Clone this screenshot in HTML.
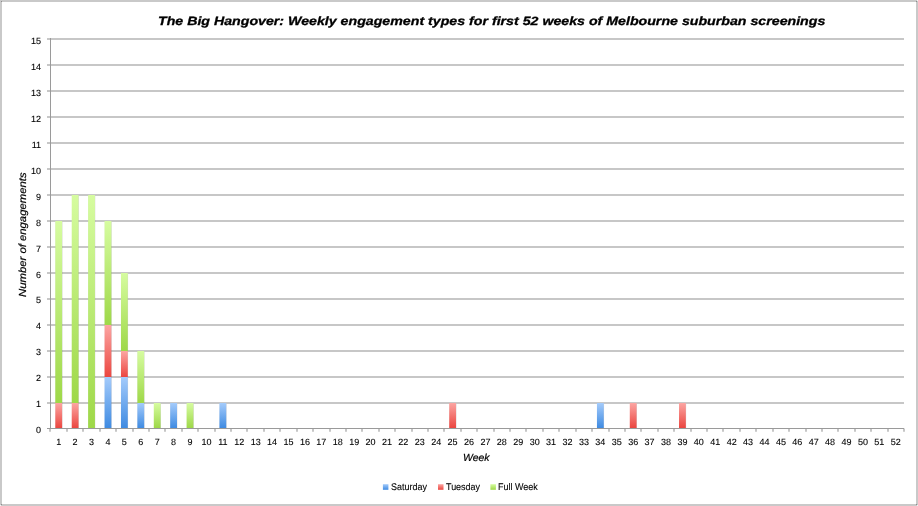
<!DOCTYPE html>
<html><head><meta charset="utf-8"><title>The Big Hangover</title>
<style>
html,body{margin:0;padding:0;background:#fff;}
body{width:918px;height:506px;overflow:hidden;position:relative;font-family:"Liberation Sans",sans-serif;color:#000;}
#frame{position:absolute;left:0;top:0;width:914px;height:502px;border:2px solid #c9c9c9;}
.t{position:absolute;white-space:nowrap;line-height:1;}
#txt{position:absolute;left:0;top:0;width:918px;height:506px;will-change:transform;text-rendering:geometricPrecision;}
.yl,.xl,.lg{-webkit-text-stroke:0.1px #000;}
.yl{font-size:9px;text-align:right;width:30px;left:11px;}
.xl{font-size:9px;text-align:center;width:20px;}
.lg{font-size:9.7px;top:483px;transform-origin:0 50%;transform:scaleX(0.925);}
</style></head><body>
<div id="frame"></div>
<svg width="918" height="506" viewBox="0 0 918 506" style="position:absolute;left:0;top:0">
<defs>
<linearGradient id="gb" x1="0" y1="0" x2="0" y2="1"><stop offset="0" stop-color="#a4cbfb"/><stop offset="1" stop-color="#3f8be2"/></linearGradient>
<linearGradient id="gr" x1="0" y1="0" x2="0" y2="1"><stop offset="0" stop-color="#fca5a2"/><stop offset="1" stop-color="#eb4640"/></linearGradient>
<linearGradient id="gg" x1="0" y1="0" x2="0" y2="1"><stop offset="0" stop-color="#d6fca0"/><stop offset="1" stop-color="#9ed848"/></linearGradient>
<filter id="sh" x="-50%" y="-5%" width="200%" height="110%"><feGaussianBlur stdDeviation="0.7"/></filter>
</defs>
<line x1="47" x2="904.0" y1="403.00" y2="403.00" stroke="#c7c7c7" stroke-width="2"/>
<line x1="47" x2="904.0" y1="377.00" y2="377.00" stroke="#c7c7c7" stroke-width="2"/>
<line x1="47" x2="904.0" y1="351.00" y2="351.00" stroke="#c7c7c7" stroke-width="2"/>
<line x1="47" x2="904.0" y1="325.00" y2="325.00" stroke="#c7c7c7" stroke-width="2"/>
<line x1="47" x2="904.0" y1="299.00" y2="299.00" stroke="#c7c7c7" stroke-width="2"/>
<line x1="47" x2="904.0" y1="273.00" y2="273.00" stroke="#c7c7c7" stroke-width="2"/>
<line x1="47" x2="904.0" y1="247.00" y2="247.00" stroke="#c7c7c7" stroke-width="2"/>
<line x1="47" x2="904.0" y1="221.00" y2="221.00" stroke="#c7c7c7" stroke-width="2"/>
<line x1="47" x2="904.0" y1="195.00" y2="195.00" stroke="#c7c7c7" stroke-width="2"/>
<line x1="47" x2="904.0" y1="169.00" y2="169.00" stroke="#c7c7c7" stroke-width="2"/>
<line x1="47" x2="904.0" y1="143.00" y2="143.00" stroke="#c7c7c7" stroke-width="2"/>
<line x1="47" x2="904.0" y1="117.00" y2="117.00" stroke="#c7c7c7" stroke-width="2"/>
<line x1="47" x2="904.0" y1="91.00" y2="91.00" stroke="#c7c7c7" stroke-width="2"/>
<line x1="47" x2="904.0" y1="65.00" y2="65.00" stroke="#c7c7c7" stroke-width="2"/>
<line x1="47" x2="904.0" y1="39.00" y2="39.00" stroke="#c7c7c7" stroke-width="2"/>
<line x1="50.00" x2="50.00" y1="428.5" y2="431.8" stroke="#c6c6c6" stroke-width="2"/>
<line x1="67.00" x2="67.00" y1="428.5" y2="431.8" stroke="#c6c6c6" stroke-width="2"/>
<line x1="83.00" x2="83.00" y1="428.5" y2="431.8" stroke="#c6c6c6" stroke-width="2"/>
<line x1="100.00" x2="100.00" y1="428.5" y2="431.8" stroke="#c6c6c6" stroke-width="2"/>
<line x1="116.00" x2="116.00" y1="428.5" y2="431.8" stroke="#c6c6c6" stroke-width="2"/>
<line x1="133.00" x2="133.00" y1="428.5" y2="431.8" stroke="#c6c6c6" stroke-width="2"/>
<line x1="149.00" x2="149.00" y1="428.5" y2="431.8" stroke="#c6c6c6" stroke-width="2"/>
<line x1="165.00" x2="165.00" y1="428.5" y2="431.8" stroke="#c6c6c6" stroke-width="2"/>
<line x1="182.00" x2="182.00" y1="428.5" y2="431.8" stroke="#c6c6c6" stroke-width="2"/>
<line x1="198.00" x2="198.00" y1="428.5" y2="431.8" stroke="#c6c6c6" stroke-width="2"/>
<line x1="215.00" x2="215.00" y1="428.5" y2="431.8" stroke="#c6c6c6" stroke-width="2"/>
<line x1="231.00" x2="231.00" y1="428.5" y2="431.8" stroke="#c6c6c6" stroke-width="2"/>
<line x1="247.00" x2="247.00" y1="428.5" y2="431.8" stroke="#c6c6c6" stroke-width="2"/>
<line x1="264.00" x2="264.00" y1="428.5" y2="431.8" stroke="#c6c6c6" stroke-width="2"/>
<line x1="280.00" x2="280.00" y1="428.5" y2="431.8" stroke="#c6c6c6" stroke-width="2"/>
<line x1="297.00" x2="297.00" y1="428.5" y2="431.8" stroke="#c6c6c6" stroke-width="2"/>
<line x1="313.00" x2="313.00" y1="428.5" y2="431.8" stroke="#c6c6c6" stroke-width="2"/>
<line x1="330.00" x2="330.00" y1="428.5" y2="431.8" stroke="#c6c6c6" stroke-width="2"/>
<line x1="346.00" x2="346.00" y1="428.5" y2="431.8" stroke="#c6c6c6" stroke-width="2"/>
<line x1="362.00" x2="362.00" y1="428.5" y2="431.8" stroke="#c6c6c6" stroke-width="2"/>
<line x1="379.00" x2="379.00" y1="428.5" y2="431.8" stroke="#c6c6c6" stroke-width="2"/>
<line x1="395.00" x2="395.00" y1="428.5" y2="431.8" stroke="#c6c6c6" stroke-width="2"/>
<line x1="412.00" x2="412.00" y1="428.5" y2="431.8" stroke="#c6c6c6" stroke-width="2"/>
<line x1="428.00" x2="428.00" y1="428.5" y2="431.8" stroke="#c6c6c6" stroke-width="2"/>
<line x1="444.00" x2="444.00" y1="428.5" y2="431.8" stroke="#c6c6c6" stroke-width="2"/>
<line x1="461.00" x2="461.00" y1="428.5" y2="431.8" stroke="#c6c6c6" stroke-width="2"/>
<line x1="477.00" x2="477.00" y1="428.5" y2="431.8" stroke="#c6c6c6" stroke-width="2"/>
<line x1="494.00" x2="494.00" y1="428.5" y2="431.8" stroke="#c6c6c6" stroke-width="2"/>
<line x1="510.00" x2="510.00" y1="428.5" y2="431.8" stroke="#c6c6c6" stroke-width="2"/>
<line x1="526.00" x2="526.00" y1="428.5" y2="431.8" stroke="#c6c6c6" stroke-width="2"/>
<line x1="543.00" x2="543.00" y1="428.5" y2="431.8" stroke="#c6c6c6" stroke-width="2"/>
<line x1="559.00" x2="559.00" y1="428.5" y2="431.8" stroke="#c6c6c6" stroke-width="2"/>
<line x1="576.00" x2="576.00" y1="428.5" y2="431.8" stroke="#c6c6c6" stroke-width="2"/>
<line x1="592.00" x2="592.00" y1="428.5" y2="431.8" stroke="#c6c6c6" stroke-width="2"/>
<line x1="609.00" x2="609.00" y1="428.5" y2="431.8" stroke="#c6c6c6" stroke-width="2"/>
<line x1="625.00" x2="625.00" y1="428.5" y2="431.8" stroke="#c6c6c6" stroke-width="2"/>
<line x1="641.00" x2="641.00" y1="428.5" y2="431.8" stroke="#c6c6c6" stroke-width="2"/>
<line x1="658.00" x2="658.00" y1="428.5" y2="431.8" stroke="#c6c6c6" stroke-width="2"/>
<line x1="674.00" x2="674.00" y1="428.5" y2="431.8" stroke="#c6c6c6" stroke-width="2"/>
<line x1="691.00" x2="691.00" y1="428.5" y2="431.8" stroke="#c6c6c6" stroke-width="2"/>
<line x1="707.00" x2="707.00" y1="428.5" y2="431.8" stroke="#c6c6c6" stroke-width="2"/>
<line x1="723.00" x2="723.00" y1="428.5" y2="431.8" stroke="#c6c6c6" stroke-width="2"/>
<line x1="740.00" x2="740.00" y1="428.5" y2="431.8" stroke="#c6c6c6" stroke-width="2"/>
<line x1="756.00" x2="756.00" y1="428.5" y2="431.8" stroke="#c6c6c6" stroke-width="2"/>
<line x1="773.00" x2="773.00" y1="428.5" y2="431.8" stroke="#c6c6c6" stroke-width="2"/>
<line x1="789.00" x2="789.00" y1="428.5" y2="431.8" stroke="#c6c6c6" stroke-width="2"/>
<line x1="806.00" x2="806.00" y1="428.5" y2="431.8" stroke="#c6c6c6" stroke-width="2"/>
<line x1="822.00" x2="822.00" y1="428.5" y2="431.8" stroke="#c6c6c6" stroke-width="2"/>
<line x1="838.00" x2="838.00" y1="428.5" y2="431.8" stroke="#c6c6c6" stroke-width="2"/>
<line x1="855.00" x2="855.00" y1="428.5" y2="431.8" stroke="#c6c6c6" stroke-width="2"/>
<line x1="871.00" x2="871.00" y1="428.5" y2="431.8" stroke="#c6c6c6" stroke-width="2"/>
<line x1="888.00" x2="888.00" y1="428.5" y2="431.8" stroke="#c6c6c6" stroke-width="2"/>
<line x1="904.00" x2="904.00" y1="428.5" y2="431.8" stroke="#c6c6c6" stroke-width="2"/>
<rect x="55.61" y="222.00" width="6.80" height="206.50" fill="#202028" opacity="0.2" filter="url(#sh)"/>
<rect x="72.02" y="196.00" width="6.80" height="232.50" fill="#202028" opacity="0.2" filter="url(#sh)"/>
<rect x="88.43" y="196.00" width="6.80" height="232.50" fill="#202028" opacity="0.2" filter="url(#sh)"/>
<rect x="104.85" y="222.00" width="6.80" height="206.50" fill="#202028" opacity="0.2" filter="url(#sh)"/>
<rect x="121.26" y="274.00" width="6.80" height="154.50" fill="#202028" opacity="0.2" filter="url(#sh)"/>
<rect x="137.67" y="352.00" width="6.80" height="76.50" fill="#202028" opacity="0.2" filter="url(#sh)"/>
<rect x="154.09" y="404.00" width="6.80" height="24.50" fill="#202028" opacity="0.2" filter="url(#sh)"/>
<rect x="170.50" y="404.00" width="6.80" height="24.50" fill="#202028" opacity="0.2" filter="url(#sh)"/>
<rect x="186.91" y="404.00" width="6.80" height="24.50" fill="#202028" opacity="0.2" filter="url(#sh)"/>
<rect x="219.74" y="404.00" width="6.80" height="24.50" fill="#202028" opacity="0.2" filter="url(#sh)"/>
<rect x="449.53" y="404.00" width="6.80" height="24.50" fill="#202028" opacity="0.2" filter="url(#sh)"/>
<rect x="597.25" y="404.00" width="6.80" height="24.50" fill="#202028" opacity="0.2" filter="url(#sh)"/>
<rect x="630.08" y="404.00" width="6.80" height="24.50" fill="#202028" opacity="0.2" filter="url(#sh)"/>
<rect x="679.32" y="404.00" width="6.80" height="24.50" fill="#202028" opacity="0.2" filter="url(#sh)"/>
<rect x="55.31" y="403.00" width="6.80" height="25.00" fill="url(#gr)"/>
<rect x="55.31" y="221.00" width="6.80" height="182.00" fill="url(#gg)"/>
<rect x="71.72" y="403.00" width="6.80" height="25.00" fill="url(#gr)"/>
<rect x="71.72" y="195.00" width="6.80" height="208.00" fill="url(#gg)"/>
<rect x="88.13" y="195.00" width="6.80" height="233.00" fill="url(#gg)"/>
<rect x="104.55" y="377.00" width="6.80" height="51.00" fill="url(#gb)"/>
<rect x="104.55" y="325.00" width="6.80" height="52.00" fill="url(#gr)"/>
<rect x="104.55" y="221.00" width="6.80" height="104.00" fill="url(#gg)"/>
<rect x="120.96" y="377.00" width="6.80" height="51.00" fill="url(#gb)"/>
<rect x="120.96" y="351.00" width="6.80" height="26.00" fill="url(#gr)"/>
<rect x="120.96" y="273.00" width="6.80" height="78.00" fill="url(#gg)"/>
<rect x="137.37" y="403.00" width="6.80" height="25.00" fill="url(#gb)"/>
<rect x="137.37" y="351.00" width="6.80" height="52.00" fill="url(#gg)"/>
<rect x="153.79" y="403.00" width="6.80" height="25.00" fill="url(#gg)"/>
<rect x="170.20" y="403.00" width="6.80" height="25.00" fill="url(#gb)"/>
<rect x="186.61" y="403.00" width="6.80" height="25.00" fill="url(#gg)"/>
<rect x="219.44" y="403.00" width="6.80" height="25.00" fill="url(#gb)"/>
<rect x="449.23" y="403.00" width="6.80" height="25.00" fill="url(#gr)"/>
<rect x="596.95" y="403.00" width="6.80" height="25.00" fill="url(#gb)"/>
<rect x="629.78" y="403.00" width="6.80" height="25.00" fill="url(#gr)"/>
<rect x="679.02" y="403.00" width="6.80" height="25.00" fill="url(#gr)"/>
<line x1="50.5" x2="50.5" y1="38.0" y2="428.5" stroke="#9a9a9a" stroke-width="1"/>
<line x1="47" x2="904.0" y1="428.5" y2="428.5" stroke="#9a9a9a" stroke-width="1"/>
<rect x="382.9" y="484.2" width="5.5" height="5.6" fill="url(#gb)"/>
<rect x="438.0" y="484.2" width="5.5" height="5.6" fill="url(#gr)"/>
<rect x="490.4" y="484.2" width="5.5" height="5.6" fill="url(#gg)"/>
<rect x="1" y="1" width="1" height="1" fill="#8c8c8c"/>
<rect x="916" y="1" width="1" height="1" fill="#8c8c8c"/>
<rect x="1" y="504" width="1" height="1" fill="#8c8c8c"/>
<rect x="916" y="504" width="1" height="1" fill="#8c8c8c"/>
<rect x="917" y="0" width="1" height="1" fill="#f4f4f4"/>
<rect x="0" y="505" width="1" height="1" fill="#f4f4f4"/>
<rect x="917" y="505" width="1" height="1" fill="#f4f4f4"/>
</svg>
<div id="txt">
<div class="t" id="title" style="left:157.9px;top:14.8px;font-size:12px;font-weight:bold;font-style:italic;-webkit-text-stroke:0.3px #000;transform-origin:0 0;transform:scaleX(1.182);">The Big Hangover: Weekly engagement types for first 52 weeks of Melbourne suburban screenings</div>
<div class="t yl" style="top:426px">0</div>
<div class="t yl" style="top:400px">1</div>
<div class="t yl" style="top:374px">2</div>
<div class="t yl" style="top:348px">3</div>
<div class="t yl" style="top:322px">4</div>
<div class="t yl" style="top:296px">5</div>
<div class="t yl" style="top:271px">6</div>
<div class="t yl" style="top:245px">7</div>
<div class="t yl" style="top:219px">8</div>
<div class="t yl" style="top:193px">9</div>
<div class="t yl" style="top:167px">10</div>
<div class="t yl" style="top:141px">11</div>
<div class="t yl" style="top:115px">12</div>
<div class="t yl" style="top:89px">13</div>
<div class="t yl" style="top:63px">14</div>
<div class="t yl" style="top:37px">15</div>
<div class="t xl" style="left:48.71px;top:437.8px">1</div>
<div class="t xl" style="left:65.12px;top:437.8px">2</div>
<div class="t xl" style="left:81.53px;top:437.8px">3</div>
<div class="t xl" style="left:97.95px;top:437.8px">4</div>
<div class="t xl" style="left:114.36px;top:437.8px">5</div>
<div class="t xl" style="left:130.77px;top:437.8px">6</div>
<div class="t xl" style="left:147.19px;top:437.8px">7</div>
<div class="t xl" style="left:163.60px;top:437.8px">8</div>
<div class="t xl" style="left:180.01px;top:437.8px">9</div>
<div class="t xl" style="left:196.43px;top:437.8px">10</div>
<div class="t xl" style="left:212.84px;top:437.8px">11</div>
<div class="t xl" style="left:229.25px;top:437.8px">12</div>
<div class="t xl" style="left:245.67px;top:437.8px">13</div>
<div class="t xl" style="left:262.08px;top:437.8px">14</div>
<div class="t xl" style="left:278.50px;top:437.8px">15</div>
<div class="t xl" style="left:294.91px;top:437.8px">16</div>
<div class="t xl" style="left:311.32px;top:437.8px">17</div>
<div class="t xl" style="left:327.74px;top:437.8px">18</div>
<div class="t xl" style="left:344.15px;top:437.8px">19</div>
<div class="t xl" style="left:360.56px;top:437.8px">20</div>
<div class="t xl" style="left:376.98px;top:437.8px">21</div>
<div class="t xl" style="left:393.39px;top:437.8px">22</div>
<div class="t xl" style="left:409.80px;top:437.8px">23</div>
<div class="t xl" style="left:426.22px;top:437.8px">24</div>
<div class="t xl" style="left:442.63px;top:437.8px">25</div>
<div class="t xl" style="left:459.04px;top:437.8px">26</div>
<div class="t xl" style="left:475.46px;top:437.8px">27</div>
<div class="t xl" style="left:491.87px;top:437.8px">28</div>
<div class="t xl" style="left:508.28px;top:437.8px">29</div>
<div class="t xl" style="left:524.70px;top:437.8px">30</div>
<div class="t xl" style="left:541.11px;top:437.8px">31</div>
<div class="t xl" style="left:557.52px;top:437.8px">32</div>
<div class="t xl" style="left:573.94px;top:437.8px">33</div>
<div class="t xl" style="left:590.35px;top:437.8px">34</div>
<div class="t xl" style="left:606.76px;top:437.8px">35</div>
<div class="t xl" style="left:623.18px;top:437.8px">36</div>
<div class="t xl" style="left:639.59px;top:437.8px">37</div>
<div class="t xl" style="left:656.00px;top:437.8px">38</div>
<div class="t xl" style="left:672.42px;top:437.8px">39</div>
<div class="t xl" style="left:688.83px;top:437.8px">40</div>
<div class="t xl" style="left:705.25px;top:437.8px">41</div>
<div class="t xl" style="left:721.66px;top:437.8px">42</div>
<div class="t xl" style="left:738.07px;top:437.8px">43</div>
<div class="t xl" style="left:754.49px;top:437.8px">44</div>
<div class="t xl" style="left:770.90px;top:437.8px">45</div>
<div class="t xl" style="left:787.31px;top:437.8px">46</div>
<div class="t xl" style="left:803.73px;top:437.8px">47</div>
<div class="t xl" style="left:820.14px;top:437.8px">48</div>
<div class="t xl" style="left:836.55px;top:437.8px">49</div>
<div class="t xl" style="left:852.97px;top:437.8px">50</div>
<div class="t xl" style="left:869.38px;top:437.8px">51</div>
<div class="t xl" style="left:885.79px;top:437.8px">52</div>
<div class="t" id="week" style="left:463.2px;top:453.5px;font-size:10.3px;font-style:italic;-webkit-text-stroke:0.2px #000;transform-origin:0 0;transform:scaleX(1.015);">Week</div>
<div class="t" id="ylab" style="left:19px;top:297.3px;font-size:10.3px;font-style:italic;-webkit-text-stroke:0.2px #000;transform-origin:0 0;transform:rotate(-90deg) scaleX(1.099);">Number of engagements</div>
<div class="t lg" id="l1" style="left:391px">Saturday</div>
<div class="t lg" id="l2" style="left:446.3px">Tuesday</div>
<div class="t lg" id="l3" style="left:498.4px">Full Week</div>
</div>
</body></html>
